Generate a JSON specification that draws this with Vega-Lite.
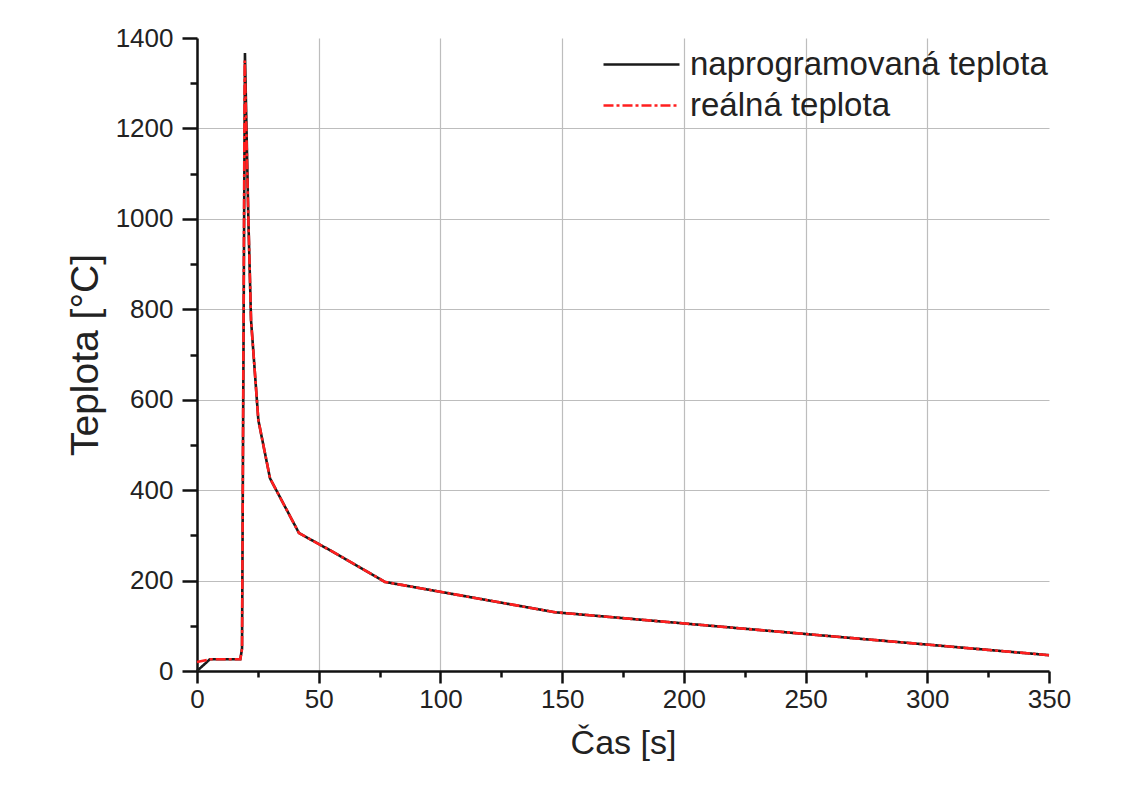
{
  "$schema": "https://vega.github.io/schema/vega-lite/v6.json",
  "width": 852,
  "height": 633,
  "autosize": {"type": "none"},
  "padding": {"left": 197, "top": 38, "right": 74, "bottom": 119},
  "background": "white",
  "config": {
    "view": {"stroke": null},
    "font": "Liberation Sans",
    "axis": {
      "domainColor": "#111",
      "domainWidth": 2.5,
      "tickColor": "#111",
      "tickWidth": 2.5,
      "labelFont": "Liberation Sans",
      "labelFontSize": 26,
      "labelColor": "#222",
      "titleFont": "Liberation Sans",
      "titleFontSize": 34,
      "titleFontWeight": "normal",
      "titleColor": "#222",
      "gridWidth": 1.2
    }
  },
  "data": {
    "values": [
      {"t": 0, "T": 0, "s": "naprogramovaná teplota"},
      {"t": 5.3, "T": 26, "s": "naprogramovaná teplota"},
      {"t": 17.8, "T": 26, "s": "naprogramovaná teplota"},
      {"t": 18.5, "T": 50, "s": "naprogramovaná teplota"},
      {"t": 19.7, "T": 1367, "s": "naprogramovaná teplota"},
      {"t": 21.1, "T": 1000, "s": "naprogramovaná teplota"},
      {"t": 22.2, "T": 776, "s": "naprogramovaná teplota"},
      {"t": 25.2, "T": 555, "s": "naprogramovaná teplota"},
      {"t": 30, "T": 426, "s": "naprogramovaná teplota"},
      {"t": 41.9, "T": 305, "s": "naprogramovaná teplota"},
      {"t": 55, "T": 266, "s": "naprogramovaná teplota"},
      {"t": 77.2, "T": 197, "s": "naprogramovaná teplota"},
      {"t": 147, "T": 130, "s": "naprogramovaná teplota"},
      {"t": 350, "T": 35, "s": "naprogramovaná teplota"},
      {"t": 0, "T": 20, "s": "reálná teplota"},
      {"t": 5.3, "T": 26, "s": "reálná teplota"},
      {"t": 17.8, "T": 26, "s": "reálná teplota"},
      {"t": 18.5, "T": 50, "s": "reálná teplota"},
      {"t": 19.6, "T": 1350, "s": "reálná teplota"},
      {"t": 21.1, "T": 1000, "s": "reálná teplota"},
      {"t": 22.2, "T": 776, "s": "reálná teplota"},
      {"t": 25.2, "T": 555, "s": "reálná teplota"},
      {"t": 30, "T": 426, "s": "reálná teplota"},
      {"t": 41.9, "T": 305, "s": "reálná teplota"},
      {"t": 55, "T": 266, "s": "reálná teplota"},
      {"t": 77.2, "T": 197, "s": "reálná teplota"},
      {"t": 147, "T": 130, "s": "reálná teplota"},
      {"t": 350, "T": 35, "s": "reálná teplota"}
    ]
  },
  "mark": {"type": "line", "strokeWidth": 2.6},
  "encoding": {
    "x": {
      "field": "t", "type": "quantitative",
      "scale": {"domain": [0, 350], "nice": false, "zero": false},
      "axis": {
        "title": "Čas [s]",
        "values": [0,25,50,75,100,125,150,175,200,225,250,275,300,325,350],
        "labelExpr": "datum.value % 50 === 0 ? datum.label : ''",
        "tickSize": {"condition": {"test": "datum.value % 50 === 0", "value": 12}, "value": 6},
        "gridColor": {"condition": {"test": "datum.value % 50 !== 0 || datum.value >= 350", "value": "transparent"}, "value": "#bdbdbd"},
        "labelPadding": 3,
        "titlePadding": 14,
        "labelFlush": false,
        "labelOverlap": false
      }
    },
    "y": {
      "field": "T", "type": "quantitative",
      "scale": {"domain": [0, 1400], "nice": false},
      "axis": {
        "title": "Teplota [°C]",
        "titleFontSize": 39,
        "values": [0,100,200,300,400,500,600,700,800,900,1000,1100,1200,1300,1400],
        "labelExpr": "datum.value % 200 === 0 ? datum.label : ''",
        "format": "d",
        "tickSize": {"condition": {"test": "datum.value % 200 === 0", "value": 15}, "value": 7},
        "gridColor": {"condition": {"test": "datum.value % 200 !== 0 || datum.value >= 1400", "value": "transparent"}, "value": "#bdbdbd"},
        "labelPadding": 9,
        "titlePadding": 10,
        "labelFlush": false,
        "labelOverlap": false
      }
    },
    "color": {
      "field": "s", "type": "nominal",
      "scale": {"domain": ["naprogramovaná teplota", "reálná teplota"], "range": ["#1a1a1a", "#ff1f1f"]},
      "legend": {
        "title": null,
        "orient": "none",
        "legendX": 428,
        "legendY": 10,
        "symbolType": "M-2.5,0L2.5,0",
        "symbolSize": 924,
        "symbolStrokeWidth": 2.6,
        "labelFontSize": 33,
        "labelColor": "#222",
        "labelOffset": 32,
        "rowPadding": 7,
        "padding": 0,
        "labelLimit": 500
      }
    },
    "strokeDash": {
      "field": "s", "type": "nominal",
      "scale": {"domain": ["naprogramovaná teplota", "reálná teplota"], "range": [[1, 0], [10, 3, 3, 3]]},
      "legend": null
    }
  }
}
